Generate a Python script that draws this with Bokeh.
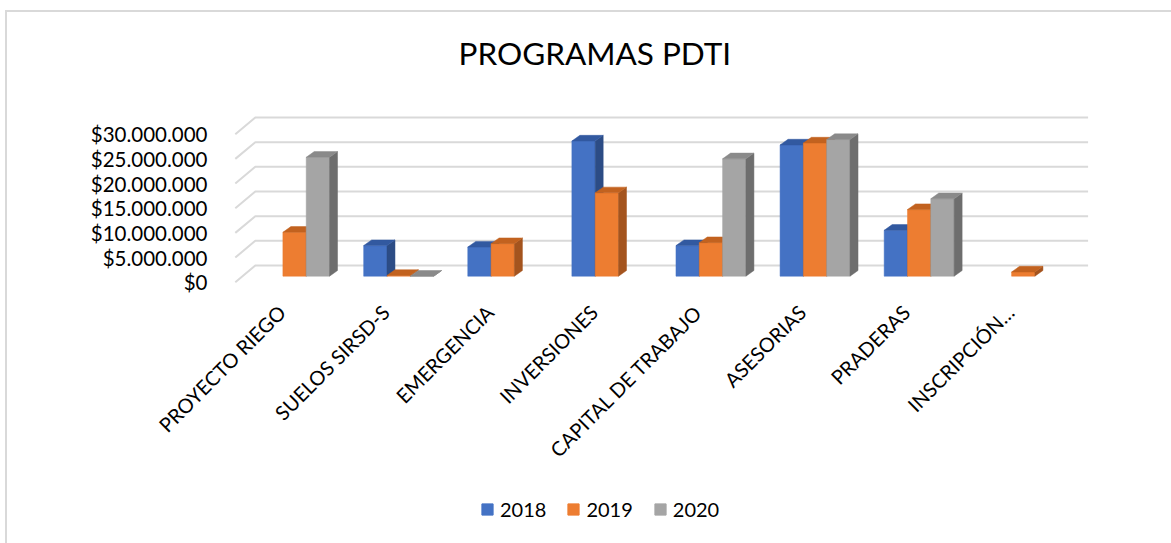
import math
from bokeh.plotting import figure
from bokeh.layouts import column
from bokeh.models import Range1d, FixedTicker, Legend, LegendItem, Title
from bokeh.embed import file_html
from bokeh.resources import INLINE

# ---------------- data ----------------
categories = ["PROYECTO RIEGO", "SUELOS SIRSD-S", "EMERGENCIA", "INVERSIONES",
              "CAPITAL DE TRABAJO", "ASESORIAS", "PRADERAS", "INSCRIPCIÓN…"]
years = ["2018", "2019", "2020"]
values_2018 = [None, 6200000, 5900000, 27400000, 6200000, 26600000, 9300000, None]
values_2019 = [8900000, 150000, 6600000, 16900000, 6800000, 27000000, 13500000, 850000]
values_2020 = [24100000, 0, None, None, 23800000, 27700000, 15700000, None]
y_ticks = [0, 5000000, 10000000, 15000000, 20000000, 25000000, 30000000]
y_tick_labels = ["$0", "$5.000.000", "$10.000.000", "$15.000.000",
                 "$20.000.000", "$25.000.000", "$30.000.000"]
title_text = "PROGRAMAS PDTI"

# ---------------- style ----------------
front_colors = ["#4472C4", "#ED7D31", "#A5A5A5"]
side_colors = ["#2C4C85", "#A4541E", "#6E6E6E"]
top_colors = ["#3259A0", "#C2621F", "#8A8A8A"]
grid_color = "#D9D9D9"
FONT = "Lato"

W = 1171
H_MAIN, H_LEG = 490, 53
FRAME_L, FRAME_R, FRAME_T, FRAME_B = 212, 1100, 95, 290
PX_CAT = 104.1          # px per category
PX_USD = 4.933e-6       # px per dollar
G = 13 / PX_CAT         # bar-group centre offset from its tick (label anchor)
CAT0_X = 242            # left edge of category band (bar plane), px
ZERO_Y = 281.7          # front-plane zero, px

x_start = -0.5 + G - (CAT0_X - FRAME_L) / PX_CAT
x_end = x_start + (FRAME_R - FRAME_L) / PX_CAT
y_start = -(FRAME_B - ZERO_Y) / PX_USD
y_end = y_start + (FRAME_B - FRAME_T) / PX_USD


def dx(px):
    return px / PX_CAT


def dy(px):
    return px / PX_USD


BAR_BASE = dy(6.0)           # bar plane sits 6px above front edge
FRONT_X = -dx(7.2)           # front floor edge relative to bar plane
BACK_X = dx(12.8)            # back wall relative to bar plane
BACK_Y = dy(16.7)            # back wall relative to front plane
DEPTH_X = dx(8.0)            # bar depth projection
DEPTH_Y = dy(5.7)
BAR_W = 0.224

p = figure(width=W, height=H_MAIN,
           x_range=Range1d(x_start, x_end), y_range=Range1d(y_start, y_end),
           output_backend="svg", toolbar_location=None,
           min_border_left=FRAME_L, min_border_right=W - FRAME_R,
           min_border_top=FRAME_T, min_border_bottom=H_MAIN - FRAME_B)
p.xgrid.visible = False
p.ygrid.visible = False
p.outline_line_color = None
p.background_fill_alpha = 0
p.border_fill_alpha = 0

# ---------------- back wall gridlines + floor diagonals ----------------
n = len(categories)
gx, gy = [], []
for t in y_ticks:
    gx.append([-0.5 + G + FRONT_X, -0.5 + G + BACK_X, n - 0.5 + G + BACK_X])
    gy.append([t, t + BACK_Y, t + BACK_Y])
p.multi_line(xs=gx, ys=gy, line_color=grid_color, line_width=2)

# ---------------- 3D-looking bars ----------------
series = [values_2018, values_2019, values_2020]
for s, vals in enumerate(series):
    fx, fb, ft = [], [], []
    pxs, pys, pcs = [], [], []
    for i, v in enumerate(vals):
        if v is None:
            continue
        xc = i + G + (s - 1) * BAR_W
        x0, x1 = xc - BAR_W / 2, xc + BAR_W / 2
        base = BAR_BASE
        top = BAR_BASE + v
        fx.append(xc); fb.append(base); ft.append(top)
        # side face
        pxs.append([x1, x1 + DEPTH_X, x1 + DEPTH_X, x1])
        pys.append([base, base + DEPTH_Y, top + DEPTH_Y, top])
        pcs.append(side_colors[s])
        # top face
        pxs.append([x0, x1, x1 + DEPTH_X, x0 + DEPTH_X])
        pys.append([top, top, top + DEPTH_Y, top + DEPTH_Y])
        pcs.append(top_colors[s])
    p.vbar(x=fx, width=BAR_W, bottom=fb, top=ft,
           fill_color=front_colors[s], line_color=front_colors[s], line_width=0.5)
    p.patches(xs=pxs, ys=pys, fill_color=pcs, line_color=pcs, line_width=0.5)

# ---------------- axes ----------------
xa = p.xaxis[0]
xa.ticker = FixedTicker(ticks=list(range(n)))
xa.major_label_overrides = {i: c for i, c in enumerate(categories)}
xa.major_label_orientation = math.pi / 4
xa.axis_line_color = None
xa.major_tick_line_color = None
xa.minor_tick_line_color = None
xa.major_tick_out = 0
xa.major_tick_in = 0
xa.major_label_text_font = FONT
xa.major_label_text_font_size = "20px"
xa.major_label_text_color = "#000000"
xa.major_label_standoff = 18

ya = p.yaxis[0]
ya.ticker = FixedTicker(ticks=y_ticks)
ya.major_label_overrides = {t: l for t, l in zip(y_ticks, y_tick_labels)}
ya.axis_line_color = None
ya.major_tick_line_color = None
ya.minor_tick_line_color = None
ya.major_tick_out = 0
ya.major_tick_in = 0
ya.major_label_text_font = FONT
ya.major_label_text_font_size = "20.5px"
ya.major_label_text_color = "#000000"
ya.major_label_standoff = 5

# ---------------- title ----------------
p.title = Title(text=title_text, align="left", offset=246, standoff=48,
                text_font=FONT, text_font_size="31.5px", text_font_style="normal",
                text_color="#000000")

# ---------------- legend strip ----------------
lf = figure(width=W, height=H_LEG, x_range=Range1d(0, 1), y_range=Range1d(0, 1),
            output_backend="svg", toolbar_location=None,
            x_axis_location=None, y_axis_location=None, min_border=0)
lf.xgrid.visible = False
lf.ygrid.visible = False
lf.outline_line_color = None
lf.background_fill_alpha = 0
lf.border_fill_alpha = 0
items = []
for s, yr in enumerate(years):
    # legend proxy (hidden on the canvas, only its swatch is shown in the legend)
    r = lf.vbar(x=[0.5], bottom=[0], top=[1], width=0.1,
                fill_color=front_colors[s], line_color=front_colors[s])
    r.visible = False
    items.append(LegendItem(label=yr, renderers=[r]))
legend = Legend(items=items, orientation="horizontal", location=(268, 22),
                label_text_font=FONT, label_text_font_size="20px",
                label_text_color="#000000", label_height=20,
                glyph_width=14, glyph_height=14, label_standoff=6, spacing=20,
                padding=0, margin=0, border_line_color=None,
                background_fill_alpha=0, inactive_fill_alpha=0)
lf.add_layout(legend, "center")

layout = column(p, lf, spacing=0)
layout.styles = {"box-shadow": "inset 0 10px 0 0 #ffffff, inset 5px 0 0 0 #ffffff, "
                               "inset 0 12px 0 0 #D9D9D9, inset 7px 0 0 0 #D9D9D9"}

open("out.html", "w").write(file_html(layout, INLINE))
